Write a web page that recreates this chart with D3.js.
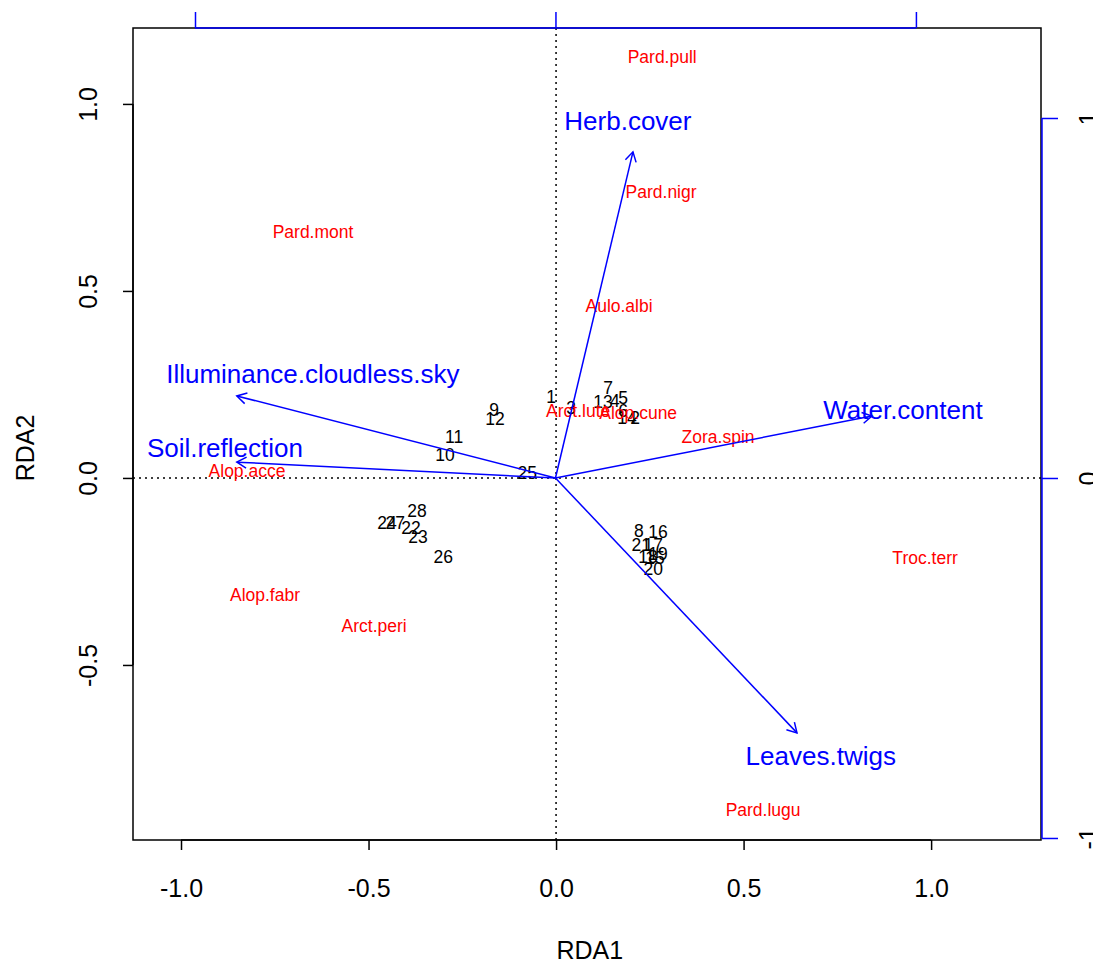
<!DOCTYPE html>
<html><head><meta charset="utf-8">
<script src="https://d3js.org/d3.v7.min.js"></script>
<style>body{margin:0;background:#fff}svg{display:block}text{font-family:"Liberation Sans",Arial,sans-serif}</style>
</head><body><svg id="c" width="1093" height="963"></svg>
<script>
const xTicks=[-1.0,-0.5,0.0,0.5,1.0];
const yTicks=[-0.5,0.0,0.5,1.0];
const secTicks=[-1,0,1];
const siteNames=["1","2","3","4","5","6","7","8","9","10","11","12","13","14","15","16","17","18","19","20","21","22","23","24","25","26","27","28"];
const siteX=[-0.013,0.211,0.040,0.157,0.179,0.179,0.139,0.221,-0.165,-0.296,-0.272,-0.163,0.125,0.189,0.264,0.272,0.259,0.245,0.272,0.259,0.227,-0.387,-0.368,-0.451,-0.077,-0.301,-0.429,-0.371];
const siteY=[0.217,0.160,0.187,0.206,0.214,0.179,0.241,-0.142,0.182,0.061,0.110,0.158,0.203,0.160,-0.214,-0.144,-0.179,-0.211,-0.203,-0.243,-0.179,-0.134,-0.158,-0.120,0.013,-0.211,-0.120,-0.088];
const speciesNames=["Pard.pull","Pard.nigr","Pard.mont","Aulo.albi","Arct.lute","Alop.cune","Zora.spin","Alop.acce","Troc.terr","Alop.fabr","Arct.peri","Pard.lugu"];
const speciesX=[0.283,0.280,-0.648,0.168,0.059,0.219,0.432,-0.824,0.984,-0.776,-0.485,0.552];
const speciesY=[1.126,0.765,0.658,0.460,0.179,0.174,0.110,0.019,-0.214,-0.313,-0.396,-0.888];
const envNames=["Herb.cover","Water.content","Leaves.twigs","Illuminance.cloudless.sky","Soil.reflection"];
const envX=[0.215,0.878,0.670,-0.884,-0.884];
const envY=[0.906,0.172,-0.708,0.228,0.044];
const envLabX=[0.201,0.964,0.736,-0.673,-0.917];
const envLabY=[0.992,0.189,-0.772,0.289,0.083];

const svg=d3.select("#c");
const L=133,R=1041,T=28,B=840;
const FF="Liberation Sans, Arial, sans-serif";
const x=d3.scaleLinear().domain([-1.128,1.293]).range([L,R]);
const y=d3.scaleLinear().domain([-0.968,1.203]).range([B,T]);
const xs=d3.scaleLinear().domain([-1.172,1.347]).range([L,R]);
const ys=d3.scaleLinear().domain([-1.0056,1.25]).range([B,T]);
const fmt1=d=>d3.format(".1f")(d).replace("\u2212","-");
const fmt0=d=>String(d);

// dotted zero lines
svg.append("line").attr("x1",x(0)).attr("x2",x(0)).attr("y1",T).attr("y2",B).attr("stroke","#000").attr("stroke-width",1.5).attr("stroke-dasharray","2,4");
svg.append("line").attr("x1",L).attr("x2",R).attr("y1",y(0)).attr("y2",y(0)).attr("stroke","#000").attr("stroke-width",1.5).attr("stroke-dasharray","2,4");

// sites
svg.append("g").selectAll("text").data(siteNames).join("text")
 .attr("x",(d,i)=>x(siteX[i])).attr("y",(d,i)=>y(siteY[i])).attr("text-anchor","middle").attr("dominant-baseline","central")
 .attr("font-size",17.5).attr("fill","#000").text(d=>d);
// species
svg.append("g").selectAll("text").data(speciesNames).join("text")
 .attr("x",(d,i)=>x(speciesX[i])).attr("y",(d,i)=>y(speciesY[i])).attr("text-anchor","middle").attr("dominant-baseline","central")
 .attr("font-size",17.5).attr("fill","#ff0000").text(d=>d);

// arrows
const ag=svg.append("g").attr("stroke","#0000ff").attr("stroke-width",1.5).attr("fill","none");
envNames.forEach((n,i)=>{
  const x0=xs(0),y0=ys(0),x1=xs(envX[i]),y1=ys(envY[i]);
  ag.append("line").attr("x1",x0).attr("y1",y0).attr("x2",x1).attr("y2",y1);
  const a=Math.atan2(y1-y0,x1-x0),len=11,ang=Math.PI/6;
  ag.append("path").attr("d",`M${x1-len*Math.cos(a-ang)},${y1-len*Math.sin(a-ang)}L${x1},${y1}L${x1-len*Math.cos(a+ang)},${y1-len*Math.sin(a+ang)}`);
});
svg.append("g").selectAll("text").data(envNames).join("text")
 .attr("x",(d,i)=>xs(envLabX[i])).attr("y",(d,i)=>ys(envLabY[i])).attr("text-anchor","middle").attr("dominant-baseline","central")
 .attr("font-size",26).attr("fill","#0000ff").text(d=>d);

// box
svg.append("rect").attr("x",L).attr("y",T).attr("width",R-L).attr("height",B-T).attr("fill","none").attr("stroke","#000").attr("stroke-width",1.5);

// bottom axis
const bx=svg.append("g").attr("transform",`translate(0,${B})`).call(d3.axisBottom(x).tickValues(xTicks).tickFormat(fmt1).tickSize(10).tickPadding(20));
bx.select(".domain").attr("d",`M${x(-1)},0H${x(1)}`).attr("stroke-width",1.5);
bx.selectAll(".tick line").attr("stroke-width",1.5);
bx.selectAll("text").attr("font-size",25).attr("font-family",FF)
 .attr("y",null).attr("dy",null).attr("dominant-baseline","central").attr("transform","translate(0,48)");
// left axis
const lx=svg.append("g").attr("transform",`translate(${L},0)`).call(d3.axisLeft(y).tickValues(yTicks).tickFormat(fmt1).tickSize(10));
lx.select(".domain").attr("d",`M0,${y(-0.5)}V${y(1)}`).attr("stroke-width",1.5);
lx.selectAll(".tick line").attr("stroke-width",1.5);
lx.selectAll("text").attr("font-size",25).attr("font-family",FF)
 .attr("x",null).attr("dy",null).attr("text-anchor","middle").attr("dominant-baseline","central")
 .attr("transform","translate(-45,0) rotate(-90)");

// top secondary axis (blue)
const tx=svg.append("g").attr("transform",`translate(0,${T})`).call(d3.axisTop(xs).tickValues(secTicks).tickSize(16).tickFormat(""));
tx.select(".domain").attr("d",`M${xs(-1)},0H${xs(1)}`).attr("stroke","#0000ff").attr("stroke-width",1.5);
tx.selectAll(".tick line").attr("stroke","#0000ff").attr("stroke-width",1.5);
// right secondary axis (blue)
const rx=svg.append("g").attr("transform",`translate(${R+1},0)`).call(d3.axisRight(ys).tickValues(secTicks).tickSize(16).tickFormat(fmt0));
rx.select(".domain").attr("d",`M0,${ys(-1)}V${ys(1)}`).attr("stroke","#0000ff").attr("stroke-width",1.5);
rx.selectAll(".tick line").attr("stroke","#0000ff").attr("stroke-width",1.5);
rx.selectAll("text").attr("font-size",25).attr("fill","#000").attr("font-family",FF)
 .attr("x",null).attr("dy",null).attr("text-anchor","middle").attr("dominant-baseline","central")
 .attr("transform","translate(46,0) rotate(-90)");

// axis titles
svg.append("text").attr("x",x(0.09)).attr("y",950).attr("text-anchor","middle").attr("dominant-baseline","central").attr("font-size",25).text("RDA1");
svg.append("text").attr("transform",`translate(25,${y(0.08)}) rotate(-90)`).attr("text-anchor","middle").attr("dominant-baseline","central").attr("font-size",25).text("RDA2");
</script></body></html>
